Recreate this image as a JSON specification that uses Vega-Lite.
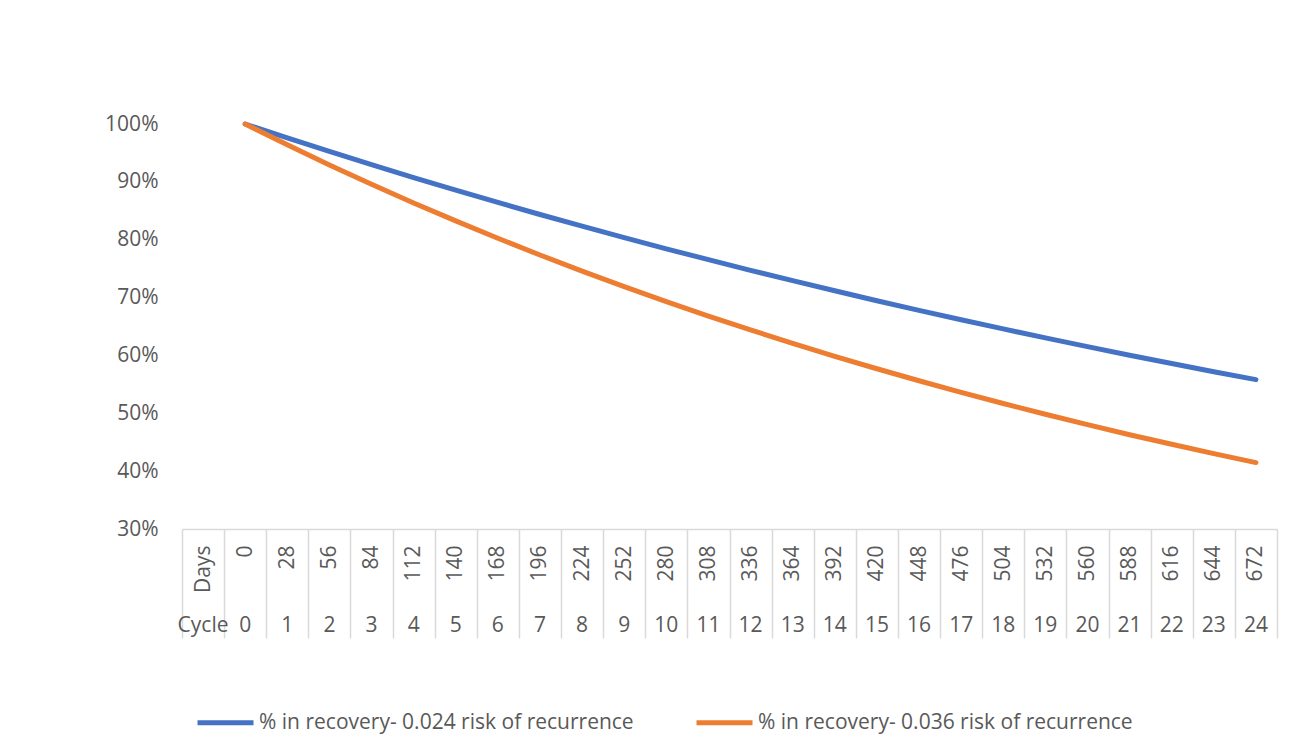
{
  "$schema": "https://vega.github.io/schema/vega-lite/v6.json",
  "autosize": {"type": "none"},
  "padding": {"left": 182, "top": 124, "right": 39, "bottom": 224},
  "width": 1095,
  "height": 405,
  "background": "white",
  "config": {
    "view": {"stroke": null},
    "font": "Open Sans"
  },
  "data": {
    "values": [
      {"key": "0|0", "series": "% in recovery- 0.024 risk of recurrence", "value": 1.0},
      {"key": "28|1", "series": "% in recovery- 0.024 risk of recurrence", "value": 0.976},
      {"key": "56|2", "series": "% in recovery- 0.024 risk of recurrence", "value": 0.9526},
      {"key": "84|3", "series": "% in recovery- 0.024 risk of recurrence", "value": 0.9297},
      {"key": "112|4", "series": "% in recovery- 0.024 risk of recurrence", "value": 0.9074},
      {"key": "140|5", "series": "% in recovery- 0.024 risk of recurrence", "value": 0.8856},
      {"key": "168|6", "series": "% in recovery- 0.024 risk of recurrence", "value": 0.8644},
      {"key": "196|7", "series": "% in recovery- 0.024 risk of recurrence", "value": 0.8436},
      {"key": "224|8", "series": "% in recovery- 0.024 risk of recurrence", "value": 0.8234},
      {"key": "252|9", "series": "% in recovery- 0.024 risk of recurrence", "value": 0.8036},
      {"key": "280|10", "series": "% in recovery- 0.024 risk of recurrence", "value": 0.7843},
      {"key": "308|11", "series": "% in recovery- 0.024 risk of recurrence", "value": 0.7655},
      {"key": "336|12", "series": "% in recovery- 0.024 risk of recurrence", "value": 0.7471},
      {"key": "364|13", "series": "% in recovery- 0.024 risk of recurrence", "value": 0.7292},
      {"key": "392|14", "series": "% in recovery- 0.024 risk of recurrence", "value": 0.7117},
      {"key": "420|15", "series": "% in recovery- 0.024 risk of recurrence", "value": 0.6946},
      {"key": "448|16", "series": "% in recovery- 0.024 risk of recurrence", "value": 0.6779},
      {"key": "476|17", "series": "% in recovery- 0.024 risk of recurrence", "value": 0.6617},
      {"key": "504|18", "series": "% in recovery- 0.024 risk of recurrence", "value": 0.6458},
      {"key": "532|19", "series": "% in recovery- 0.024 risk of recurrence", "value": 0.6303},
      {"key": "560|20", "series": "% in recovery- 0.024 risk of recurrence", "value": 0.6152},
      {"key": "588|21", "series": "% in recovery- 0.024 risk of recurrence", "value": 0.6004},
      {"key": "616|22", "series": "% in recovery- 0.024 risk of recurrence", "value": 0.586},
      {"key": "644|23", "series": "% in recovery- 0.024 risk of recurrence", "value": 0.5719},
      {"key": "672|24", "series": "% in recovery- 0.024 risk of recurrence", "value": 0.5582},
      {"key": "0|0", "series": "% in recovery- 0.036 risk of recurrence", "value": 1.0},
      {"key": "28|1", "series": "% in recovery- 0.036 risk of recurrence", "value": 0.964},
      {"key": "56|2", "series": "% in recovery- 0.036 risk of recurrence", "value": 0.9293},
      {"key": "84|3", "series": "% in recovery- 0.036 risk of recurrence", "value": 0.8958},
      {"key": "112|4", "series": "% in recovery- 0.036 risk of recurrence", "value": 0.8636},
      {"key": "140|5", "series": "% in recovery- 0.036 risk of recurrence", "value": 0.8325},
      {"key": "168|6", "series": "% in recovery- 0.036 risk of recurrence", "value": 0.8025},
      {"key": "196|7", "series": "% in recovery- 0.036 risk of recurrence", "value": 0.7736},
      {"key": "224|8", "series": "% in recovery- 0.036 risk of recurrence", "value": 0.7458},
      {"key": "252|9", "series": "% in recovery- 0.036 risk of recurrence", "value": 0.7189},
      {"key": "280|10", "series": "% in recovery- 0.036 risk of recurrence", "value": 0.6931},
      {"key": "308|11", "series": "% in recovery- 0.036 risk of recurrence", "value": 0.6681},
      {"key": "336|12", "series": "% in recovery- 0.036 risk of recurrence", "value": 0.6441},
      {"key": "364|13", "series": "% in recovery- 0.036 risk of recurrence", "value": 0.6209},
      {"key": "392|14", "series": "% in recovery- 0.036 risk of recurrence", "value": 0.5985},
      {"key": "420|15", "series": "% in recovery- 0.036 risk of recurrence", "value": 0.577},
      {"key": "448|16", "series": "% in recovery- 0.036 risk of recurrence", "value": 0.5562},
      {"key": "476|17", "series": "% in recovery- 0.036 risk of recurrence", "value": 0.5362},
      {"key": "504|18", "series": "% in recovery- 0.036 risk of recurrence", "value": 0.5169},
      {"key": "532|19", "series": "% in recovery- 0.036 risk of recurrence", "value": 0.4983},
      {"key": "560|20", "series": "% in recovery- 0.036 risk of recurrence", "value": 0.4803},
      {"key": "588|21", "series": "% in recovery- 0.036 risk of recurrence", "value": 0.463},
      {"key": "616|22", "series": "% in recovery- 0.036 risk of recurrence", "value": 0.4464},
      {"key": "644|23", "series": "% in recovery- 0.036 risk of recurrence", "value": 0.4303},
      {"key": "672|24", "series": "% in recovery- 0.036 risk of recurrence", "value": 0.4148}
    ]
  },
  "layer": [
    {
      "mark": {"type": "line", "strokeWidth": 5, "strokeCap": "round", "strokeJoin": "round"},
      "encoding": {
        "x": {
          "field": "key",
          "type": "nominal",
          "bandPosition": 0.5,
          "sort": null,
          "scale": {
            "type": "band",
            "paddingInner": 0,
            "paddingOuter": 0,
            "domain": ["Days|Cycle", "0|0", "28|1", "56|2", "84|3", "112|4", "140|5", "168|6", "196|7", "224|8", "252|9", "280|10", "308|11", "336|12", "364|13", "392|14", "420|15", "448|16", "476|17", "504|18", "532|19", "560|20", "588|21", "616|22", "644|23", "672|24"]
          },
          "axis": {
            "orient": "bottom",
            "title": null,
            "labelExpr": "isString(datum.value) ? split(datum.value, '|')[0] : ''",
            "labelAngle": -90,
            "labelAlign": "right",
            "labelBaseline": "middle",
            "labelFont": "Open Sans",
            "labelFontSize": 21,
            "labelColor": "#595959",
            "labelPadding": -93,
            "labelOverlap": false,
            "labelBound": false,
            "ticks": true,
            "tickBand": "extent",
            "tickSize": 109,
            "tickColor": "#d9d9d9",
            "tickWidth": 1.5,
            "domain": true,
            "domainColor": "#d9d9d9",
            "domainWidth": 1.5,
            "grid": false
          }
        },
        "y": {
          "field": "value",
          "type": "quantitative",
          "scale": {"domain": [0.3, 1.0], "nice": false, "zero": false},
          "axis": {
            "title": null,
            "values": [0.3, 0.4, 0.5, 0.6, 0.7, 0.8, 0.9, 1.0],
            "format": ".0%",
            "labelFont": "Open Sans",
            "labelFontSize": 21,
            "labelColor": "#595959",
            "labelPadding": 24,
            "ticks": false,
            "domain": false,
            "grid": false
          }
        },
        "color": {
          "field": "series",
          "type": "nominal",
          "scale": {
            "domain": ["% in recovery- 0.024 risk of recurrence", "% in recovery- 0.036 risk of recurrence"],
            "range": ["#4472C4", "#ED7D31"]
          },
          "legend": {
            "orient": "none",
            "legendX": 13,
            "legendY": 568,
            "direction": "horizontal",
            "title": null,
            "padding": 0,
            "symbolType": "stroke",
            "symbolStrokeWidth": 5,
            "symbolSize": 3136,
            "labelFont": "Open Sans",
            "labelFontSize": 21,
            "labelColor": "#595959",
            "labelOffset": 3,
            "labelLimit": 0,
            "columnPadding": 52
          }
        }
      }
    },
    {
      "mark": {"type": "point", "opacity": 0},
      "encoding": {
        "x": {
          "field": "key",
          "type": "nominal",
          "bandPosition": 0.5,
          "sort": null,
          "axis": {
            "orient": "bottom",
            "title": null,
            "labelExpr": "isString(datum.value) ? split(datum.value, '|')[1] : ''",
            "labelAngle": 0,
            "labelAlign": "center",
            "labelBaseline": "top",
            "labelFont": "Open Sans",
            "labelFontSize": 21,
            "labelColor": "#595959",
            "labelPadding": 85,
            "labelOverlap": false,
            "labelBound": false,
            "ticks": false,
            "domain": false,
            "grid": false
          }
        }
      }
    }
  ],
  "resolve": {"axis": {"x": "independent"}}
}
